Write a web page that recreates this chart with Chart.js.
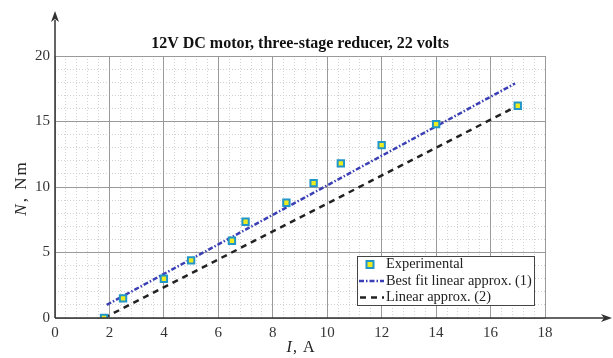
<!DOCTYPE html>
<html>
<head>
<meta charset="utf-8">
<script src="https://cdn.jsdelivr.net/npm/chart.js@4"></script>
<style>
  body { margin: 0; background: #fff; }
  #wrap { position: relative; width: 613px; height: 358px; }
</style>
</head>
<body>
<div id="wrap"><canvas id="motorChart"></canvas></div>
<script>
// measured points, current I (A) vs torque N (Nm)
const currentA = [1.8, 2.5, 4, 5, 6.5, 7, 8.5, 9.5, 10.5, 12, 14, 17];
const torqueNm = [0, 1.5, 3.0, 4.4, 5.9, 7.35, 8.8, 10.3, 11.8, 13.2, 14.8, 16.2];

// approximation lines (end points)
const bestFitX = [1.9, 16.9];
const bestFitY = [1.0, 17.9];
const linearX = [1.8, 17];
const linearY = [0, 16.2];

const xTicks = [0, 2, 4, 6, 8, 10, 12, 14, 16, 18];
const yTicks = [0, 5, 10, 15, 20];

const seriesNames = ["Experimental", "Best fit linear approx. (1)", "Linear approx. (2)"];
const titleText = "12V DC motor, three-stage reducer, 22 volts";

const SERIF = '"Liberation Serif", "DejaVu Serif", serif';
const markerFill = "#ecec1e";
const markerEdge = "#2196c9";
const fitColor = "#3a3fb5";
const linColor = "#222222";
const fitDash = [5, 2, 1.5, 2];
const linDash = [6, 5];

const toPoints = (xs, ys) => xs.map((x, i) => ({ x: x, y: ys[i] }));

const isMajor = (v, step) => Math.abs(v / step - Math.round(v / step)) < 1e-6;

const decorPlugin = {
  id: "decor",
  afterDraw(chart) {
    const ctx = chart.ctx;
    const a = chart.chartArea;
    ctx.save();

    // axes with arrows
    ctx.strokeStyle = "#333";
    ctx.fillStyle = "#333";
    ctx.lineWidth = 1.5;
    ctx.beginPath();
    ctx.moveTo(a.left, a.bottom);
    ctx.lineTo(a.left, 20);
    ctx.moveTo(a.left, a.bottom);
    ctx.lineTo(604, a.bottom);
    ctx.stroke();
    ctx.beginPath();
    ctx.moveTo(a.left, 11);
    ctx.lineTo(a.left - 4, 22);
    ctx.lineTo(a.left, 19);
    ctx.lineTo(a.left + 4, 22);
    ctx.closePath();
    ctx.fill();
    ctx.beginPath();
    ctx.moveTo(612, a.bottom);
    ctx.lineTo(601, a.bottom - 4);
    ctx.lineTo(604, a.bottom);
    ctx.lineTo(601, a.bottom + 4);
    ctx.closePath();
    ctx.fill();

    // title
    ctx.fillStyle = "#111";
    ctx.font = "bold 16px " + SERIF;
    ctx.textAlign = "center";
    ctx.textBaseline = "middle";
    ctx.fillText(titleText, (a.left + a.right) / 2, 44);

    // axis titles with italic symbol
    const drawMixed = (parts, cx, cy, size, spacing) => {
      ctx.letterSpacing = spacing + "px";
      let total = 0;
      parts.forEach(p => { ctx.font = p[1] + " " + size + "px " + SERIF; total += ctx.measureText(p[0]).width; });
      let x = cx - total / 2;
      ctx.textAlign = "left";
      parts.forEach(p => {
        ctx.font = p[1] + " " + size + "px " + SERIF;
        ctx.fillText(p[0], x, cy);
        x += ctx.measureText(p[0]).width;
      });
      ctx.letterSpacing = "0px";
    };
    ctx.fillStyle = "#222";
    drawMixed([["I", "italic"], [", A", "normal"]], 301, 348, 16, 1);

    ctx.save();
    ctx.translate(22, 188);
    ctx.rotate(-Math.PI / 2);
    drawMixed([["N", "italic"], [", Nm", "normal"]], 0, 0, 17, 2);
    ctx.restore();

    // legend box
    const lx = 357.5, ly = 256.5, lw = 177, lh = 49;
    ctx.fillStyle = "#fff";
    ctx.fillRect(lx, ly, lw, lh);
    ctx.strokeStyle = "#444";
    ctx.lineWidth = 1;
    ctx.strokeRect(lx, ly, lw, lh);

    const rows = [264.5, 281, 297.5];
    // marker sample
    ctx.fillStyle = markerFill;
    ctx.strokeStyle = markerEdge;
    ctx.lineWidth = 2;
    ctx.fillRect(366.5, rows[0] - 3.5, 7, 7);
    ctx.strokeRect(366.5, rows[0] - 3.5, 7, 7);
    // line samples
    ctx.lineWidth = 2.5;
    ctx.strokeStyle = fitColor;
    ctx.setLineDash(fitDash);
    ctx.beginPath(); ctx.moveTo(359, rows[1]); ctx.lineTo(384, rows[1]); ctx.stroke();
    ctx.strokeStyle = linColor;
    ctx.setLineDash(linDash);
    ctx.beginPath(); ctx.moveTo(360, rows[2]); ctx.lineTo(384, rows[2]); ctx.stroke();
    ctx.setLineDash([]);

    ctx.fillStyle = "#222";
    ctx.font = "14.4px " + SERIF;
    ctx.textAlign = "left";
    ctx.textBaseline = "middle";
    seriesNames.forEach((n, i) => ctx.fillText(n, 386, rows[i]));

    ctx.restore();
  }
};

const tickFont = { family: SERIF, size: 15 };

new Chart(document.getElementById("motorChart"), {
  type: "scatter",
  data: {
    datasets: [
      {
        label: seriesNames[0],
        data: toPoints(currentA, torqueNm),
        pointStyle: "rect",
        pointRadius: 4.5,
        pointBackgroundColor: markerFill,
        pointBorderColor: markerEdge,
        pointBorderWidth: 2,
        showLine: false,
      },
      {
        label: seriesNames[1],
        data: toPoints(bestFitX, bestFitY),
        showLine: true,
        borderColor: fitColor,
        borderWidth: 2.5,
        borderDash: fitDash,
        pointRadius: 0,
      },
      {
        label: seriesNames[2],
        data: toPoints(linearX, linearY),
        showLine: true,
        borderColor: linColor,
        borderWidth: 2.5,
        borderDash: linDash,
        pointRadius: 0,
      },
    ],
  },
  options: {
    responsive: true,
    maintainAspectRatio: false,
    animation: false,
    layout: { padding: { top: 56, right: 68, left: 0, bottom: 0 } },
    plugins: {
      legend: { display: false },
      tooltip: { enabled: false },
      title: { display: false },
    },
    scales: {
      xMinor: {
        type: "linear",
        position: "bottom",
        min: 0,
        max: 18,
        ticks: { display: false, stepSize: 0.4, maxTicksLimit: 100, autoSkip: false },
        grid: {
          drawTicks: false,
          color: (c) => (isMajor(c.tick.value, 2) ? "rgba(0,0,0,0)" : "#d2d2d2"),
          lineWidth: 1,
        },
        border: { display: false, dash: [1, 2] },
        afterFit: (s) => { s.height = 0; },
      },
      yMinor: {
        type: "linear",
        position: "left",
        min: 0,
        max: 20,
        ticks: { display: false, stepSize: 1, maxTicksLimit: 100, autoSkip: false },
        grid: {
          drawTicks: false,
          color: (c) => (isMajor(c.tick.value, 5) ? "rgba(0,0,0,0)" : "#d2d2d2"),
          lineWidth: 1,
        },
        border: { display: false, dash: [1, 2] },
        afterFit: (s) => { s.width = 0; },
      },
      x: {
        type: "linear",
        position: "bottom",
        min: 0,
        max: 18,
        afterBuildTicks: (s) => { s.ticks = xTicks.map(v => ({ value: v })); },
        ticks: { font: tickFont, color: "#333", padding: 6 },
        grid: { drawTicks: false, color: "#9a9a9a", lineWidth: 1 },
        border: { display: false },
        afterFit: (s) => { s.height = 40; },
      },
      y: {
        type: "linear",
        position: "left",
        min: 0,
        max: 20,
        afterBuildTicks: (s) => { s.ticks = yTicks.map(v => ({ value: v })); },
        ticks: { font: tickFont, color: "#333", padding: 5 },
        grid: { drawTicks: false, color: "#9a9a9a", lineWidth: 1 },
        border: { display: false },
        afterFit: (s) => { s.width = 55; },
      },
    },
  },
  plugins: [decorPlugin],
});
</script>
</body>
</html>
